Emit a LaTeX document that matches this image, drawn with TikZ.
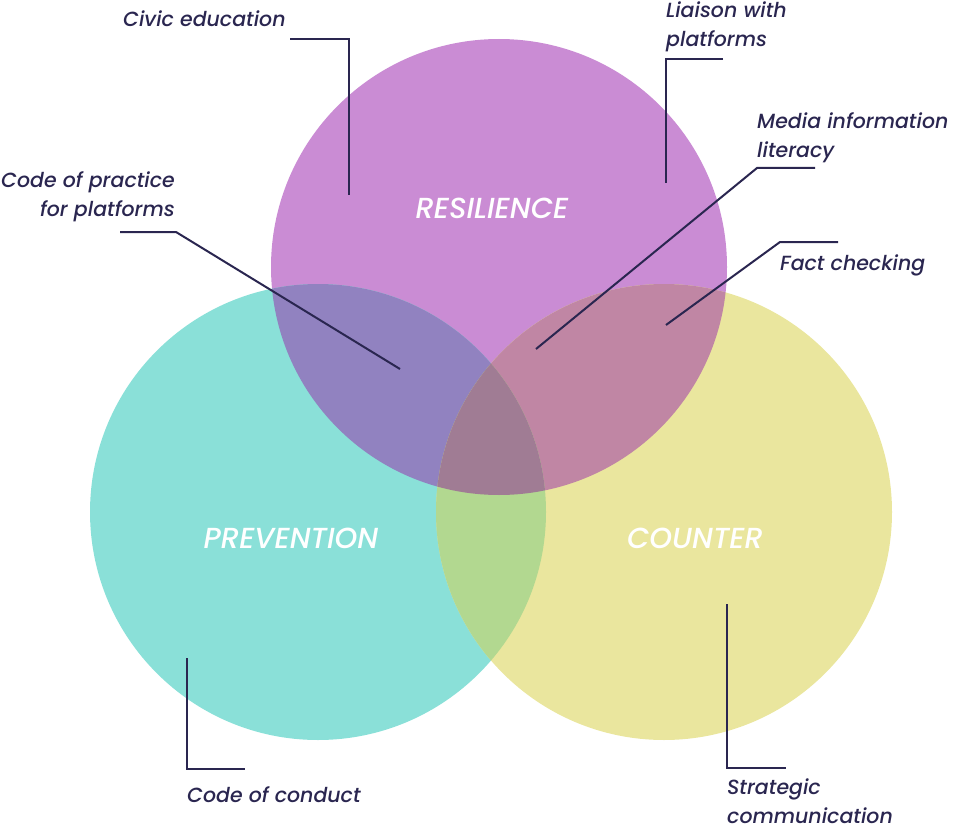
\documentclass[tikz,border=0pt]{standalone}
\usepackage{fontspec}
\setmainfont{Poppins}[UprightFont=* Medium, ItalicFont=* Medium Italic]
\usetikzlibrary{positioning}
\definecolor{resilpurple}{HTML}{CA8CD4}
\definecolor{preventeal}{HTML}{8AE0D8}
\definecolor{counteryellow}{HTML}{EAE69E}
\definecolor{resprevmix}{HTML}{9182C0}
\definecolor{rescounmix}{HTML}{C086A4}
\definecolor{prevcounmix}{HTML}{B2D890}
\definecolor{allmix}{HTML}{A07C94}
\definecolor{leadernavy}{HTML}{2A2650}

\begin{document}
\begin{tikzpicture}[x=1pt, y=-1pt,
    leader/.style={draw=leadernavy, line width=2pt},
    itemlabel/.style={inner sep=0pt, text=leadernavy, font=\fontsize{20.5}{29}\selectfont\itshape},
    setlabel/.style={inner sep=0pt, text=white, font=\fontsize{29}{29}\selectfont\itshape}]
    \useasboundingbox (0,0) rectangle (958,829);

    % circle centres
    \coordinate (res) at (499,267);
    \coordinate (prev) at (318,512);
    \coordinate (coun) at (664,512);

    \fill[resilpurple] (res) circle[radius=228pt];
    \fill[preventeal] (prev) circle[radius=228pt];
    \fill[counteryellow] (coun) circle[radius=228pt];
    \begin{scope}
        \clip (res) circle[radius=228pt];
        \fill[resprevmix] (prev) circle[radius=228pt];
        \fill[rescounmix] (coun) circle[radius=228pt];
    \end{scope}
    \begin{scope}
        \clip (prev) circle[radius=228pt];
        \fill[prevcounmix] (coun) circle[radius=228pt];
        \clip (coun) circle[radius=228pt];
        \fill[allmix] (res) circle[radius=228pt];
    \end{scope}

    \node[setlabel] (resname) at (492,208) {RESILIENCE};
    \node[setlabel] (prevname) at (291,538) {PREVENTION};
    \node[setlabel] (counname) at (695,538) {COUNTER};

    % labels (base anchor = last line)
    \node[itemlabel, anchor=base west] (civic) at (123,27) {Civic education};
    \node[itemlabel, anchor=base west, align=left] (liaison) at (666,47) {Liaison with\\platforms};
    \node[itemlabel, anchor=base west, align=left] (media) at (757,158) {Media information\\literacy};
    \node[itemlabel, anchor=base west] (fact) at (780,270) {Fact checking};
    \node[itemlabel, anchor=base east, align=right] (practice) at (175,217) {Code of practice\\for platforms};
    \node[itemlabel, anchor=base west] (conduct) at (187,802) {Code of conduct};
    \node[itemlabel, anchor=base west, align=left] (strategic) at (727,823) {Strategic\\communication};

    % leader lines
    \coordinate (civic-knee) at (349,39);
    \coordinate (civic-tip) at (349,195);
    \draw[leader] (290,39) -- (civic-knee) -- (civic-tip);

    \coordinate (liaison-start) at (723,59);
    \coordinate (liaison-knee) at (666,59);
    \coordinate (liaison-tip) at (666,183);
    \draw[leader] (liaison-start) -- (liaison-knee) -- (liaison-tip);

    \coordinate (media-start) at (815,168);
    \coordinate (media-knee) at (757,168);
    \coordinate (media-tip) at (536,349);
    \draw[leader] (media-start) -- (media-knee) -- (media-tip);

    \coordinate (fact-start) at (838,242);
    \coordinate (fact-knee) at (780,242);
    \coordinate (fact-tip) at (666,325);
    \draw[leader] (fact-start) -- (fact-knee) -- (fact-tip);

    \coordinate (practice-start) at (120,232);
    \coordinate (practice-knee) at (176,232);
    \coordinate (practice-tip) at (400,369);
    \draw[leader] (practice-start) -- (practice-knee) -- (practice-tip);

    \coordinate (conduct-tip) at (187,658);
    \coordinate (conduct-knee) at (187,769);
    \coordinate (conduct-end) at (245,769);
    \draw[leader] (conduct-tip) -- (conduct-knee) -- (conduct-end);

    \coordinate (strategic-tip) at (727,604);
    \coordinate (strategic-knee) at (727,768);
    \coordinate (strategic-end) at (786,768);
    \draw[leader] (strategic-tip) -- (strategic-knee) -- (strategic-end);
\end{tikzpicture}
\end{document}
